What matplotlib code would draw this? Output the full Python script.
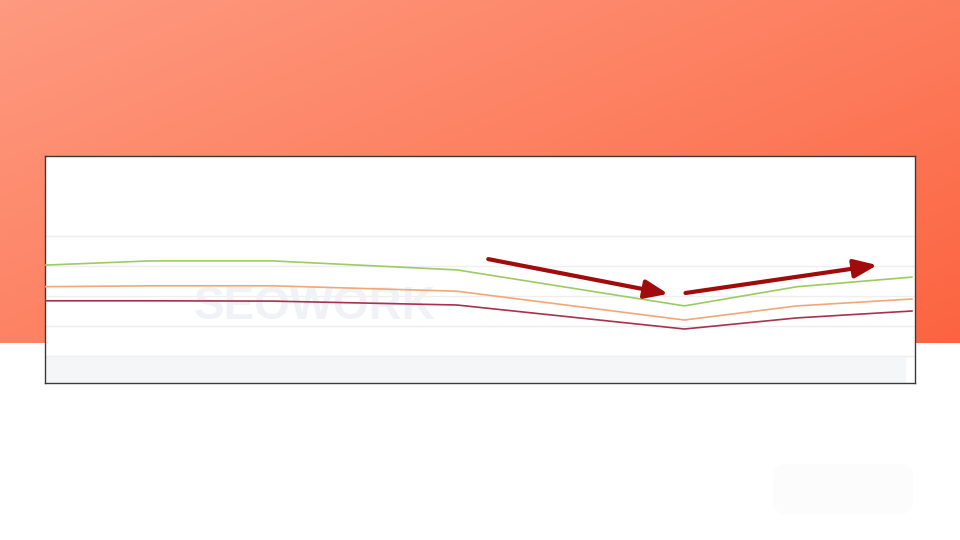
import numpy as np
import matplotlib
matplotlib.use("Agg")
import matplotlib.pyplot as plt
from matplotlib.colors import LinearSegmentedColormap
from matplotlib.patches import FancyBboxPatch

# data (x = time step, y = visibility-like score)
days = [0, 0.97, 2.1, 3.8, 5.9, 6.94, 8]
green_vals = [30.3, 31.7, 31.7, 28.7, 16.7, 23.1, 26.3]
orange_vals = [23.1, 23.4, 23.4, 21.6, 12.0, 16.7, 19.0]
red_vals = [18.4, 18.4, 18.3, 17.0, 9.0, 12.7, 15.0]
grid_levels = [0, 10, 20, 30, 40]

# annotation arrows: (start, end) in data units
arrow_down = ((4.09, 32.3), (5.75, 20.7))
arrow_up = ((5.91, 21.0), (7.68, 30.3))

color_green = "#9CCB62"
color_orange = "#F2A77A"
color_red = "#A8324E"
color_arrow = "#A00B0B"

fig = plt.figure(figsize=(9.6, 5.4), dpi=100)
fig.patch.set_facecolor("white")

# orange gradient backdrop (pixel coords)
ax_bg = fig.add_axes([0, 0, 1, 1])
ax_bg.set_xlim(0, 960)
ax_bg.set_ylim(540, 0)
ax_bg.axis("off")
cmap = LinearSegmentedColormap.from_list("bg", ["#FE9A80", "#FD8061", "#FC6440"])
gx, gy = np.meshgrid(np.linspace(0, 1, 300), np.linspace(0, 1, 120))
grad = gx * 0.55 + gy * 0.45
ax_bg.imshow(grad, cmap=cmap, extent=[0, 960, 343, 0], aspect="auto", zorder=0)
ax_bg.add_patch(FancyBboxPatch((773, 464), 140, 50, boxstyle="round,pad=0,rounding_size=14",
                               facecolor="#FCFCFC", edgecolor="none", zorder=1))

# the chart screenshot
ax = fig.add_axes([45 / 960, 1 - 383 / 540, 870 / 960, 227 / 540])
ax.set_facecolor("white")
ax.set_xlim(0, 8.028)
ax.set_ylim(-9, 66.67)
for lvl in grid_levels:
    ax.axhline(lvl, color="#EEEFF1", linewidth=1, zorder=1)
ax.axhspan(-9, 0, xmin=0, xmax=860 / 870, color="#F5F6F8", zorder=0)

ax.text(2.49, 16.5, "SEOWORK", fontsize=33, fontweight="bold", family="Liberation Sans",
        color="#F0F2F7", ha="center", va="center", zorder=1)

ax.plot(days, green_vals, color=color_green, linewidth=1.2, zorder=3)
ax.plot(days, orange_vals, color=color_orange, linewidth=1.2, zorder=3)
ax.plot(days, red_vals, color=color_red, linewidth=1.2, zorder=3)

for start, end in (arrow_down, arrow_up):
    ax.annotate("", xy=end, xytext=start,
                arrowprops=dict(arrowstyle="-|>,head_length=1.0,head_width=0.4",
                                color=color_arrow, linewidth=3.0, mutation_scale=14,
                                shrinkA=0, shrinkB=0), zorder=4)

ax.set_xticks([])
ax.set_yticks([])
for s in ax.spines.values():
    s.set_color("#3A3A3A")
    s.set_linewidth(1)

fig.savefig("out.png", dpi=100)
